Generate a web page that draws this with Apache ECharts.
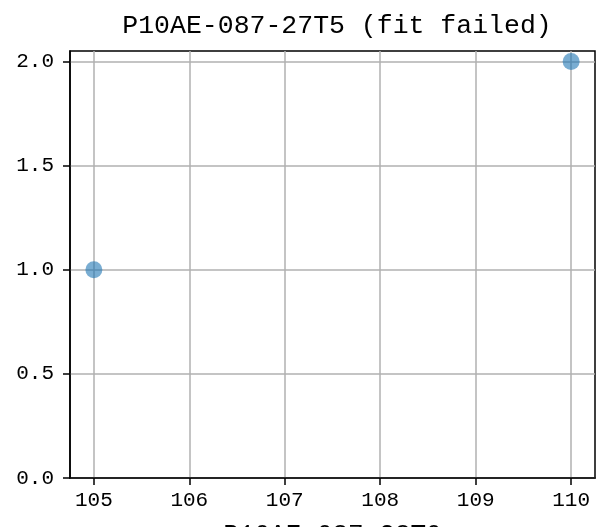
<!DOCTYPE html>
<html>
<head>
<meta charset="utf-8">
<script src="https://cdn.jsdelivr.net/npm/echarts@6/dist/echarts.min.js"></script>
<style>
  html, body { margin: 0; padding: 0; background: #fff; }
  #chart { width: 597px; height: 527px; }
</style>
</head>
<body>
<div id="chart"></div>
<script>
// Measured points
const xValues = [105, 110];
const yValues = [1, 2];

// Axis ticks
const xTicks = [105, 106, 107, 108, 109, 110];
const yTicks = [0, 0.5, 1.0, 1.5, 2.0];

const titleText = 'P10AE-087-27T5 (fit failed)';
const xLabelText = 'P10AE-087-28T0';

const FONT = "'Liberation Mono', 'DejaVu Sans Mono', monospace";

const points = xValues.map((x, i) => [x, yValues[i]]);

const chart = echarts.init(document.getElementById('chart'), null, { renderer: 'canvas' });

chart.setOption({
  animation: false,
  backgroundColor: '#ffffff',
  title: {
    text: titleText,
    left: 332,
    textAlign: 'center',
    top: 7,
    textStyle: { fontFamily: FONT, fontSize: 26.5, fontWeight: 'normal', color: '#000' }
  },
  grid: {
    left: 70, right: 2, top: 51, bottom: 49,
    outerBoundsMode: 'none',
    containLabel: false,
    show: true, borderColor: '#000', borderWidth: 1.5, backgroundColor: 'transparent'
  },
  xAxis: {
    type: 'value',
    min: 104.75,
    max: 110.25,
    name: xLabelText,
    nameLocation: 'middle',
    nameGap: 44,
    nameMoveOverlap: false,
    nameTextStyle: { fontFamily: FONT, fontSize: 26, color: '#000' },
    axisLine: { show: true, onZero: false, lineStyle: { color: '#000', width: 1.5 } },
    axisTick: { show: true, length: 7, customValues: xTicks, lineStyle: { color: '#000', width: 1.5 } },
    axisLabel: {
      customValues: xTicks,
      margin: 12,
      fontFamily: FONT, fontSize: 21, color: '#000',
      formatter: v => String(Math.round(v))
    },
    splitLine: { show: true, lineStyle: { color: '#b0b0b0', width: 1.5 } }
  },
  yAxis: {
    type: 'value',
    min: 0,
    max: 2.05,
    axisLine: { show: true, onZero: false, lineStyle: { color: '#000', width: 1.5 } },
    axisTick: { show: true, length: 7, customValues: yTicks, lineStyle: { color: '#000', width: 1.5 } },
    axisLabel: {
      customValues: yTicks,
      margin: 16,
      fontFamily: FONT, fontSize: 21, color: '#000',
      formatter: v => v.toFixed(1)
    },
    splitLine: { show: true, lineStyle: { color: '#b0b0b0', width: 1.5 } }
  },
  series: [{
    type: 'scatter',
    data: points,
    symbol: 'circle',
    symbolSize: 17,
    itemStyle: { color: '#1f77b4', opacity: 0.6 },
    z: 3
  }]
});
</script>
</body>
</html>
